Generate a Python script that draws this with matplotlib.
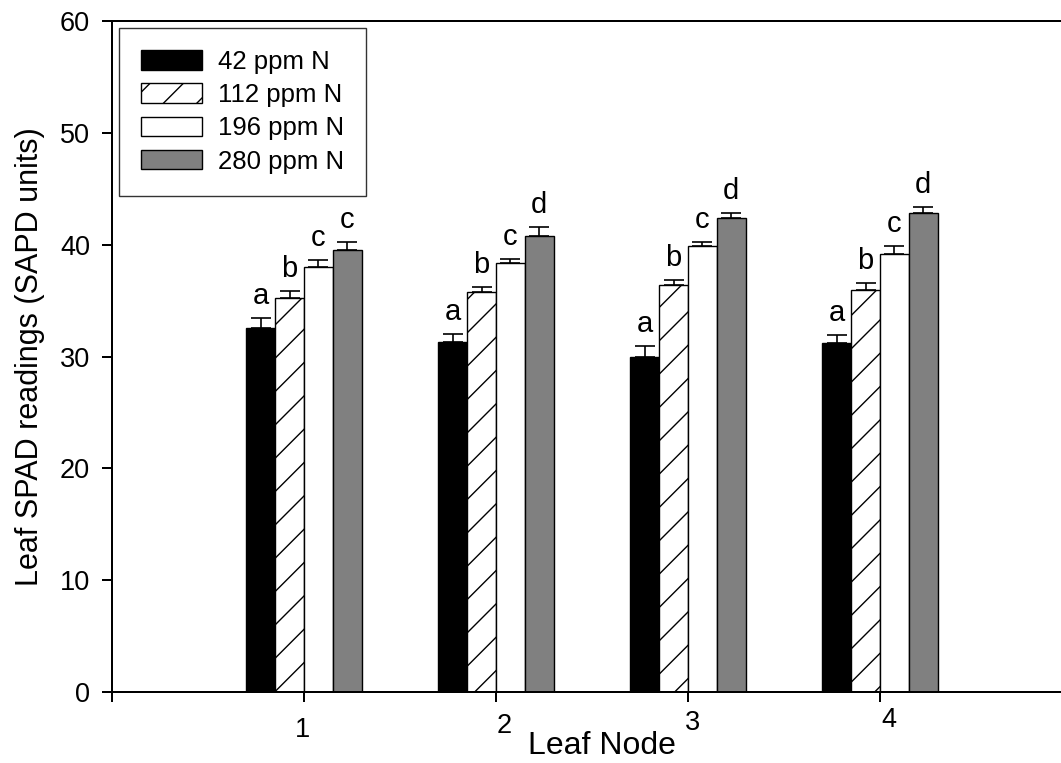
import matplotlib
matplotlib.use("Agg")
import matplotlib.pyplot as plt
import matplotlib.transforms as mtransforms
import numpy as np

plt.rcParams['font.family'] = ['Liberation Sans', 'DejaVu Sans']
plt.rcParams['hatch.linewidth'] = 1.0

# ---- data ----
nodes = [1, 2, 3, 4]
series_labels = ["42 ppm N", "112 ppm N", "196 ppm N", "280 ppm N"]
spad_42 = [32.58, 31.28, 29.99, 31.24]
spad_112 = [35.20, 35.75, 36.37, 35.92]
spad_196 = [37.98, 38.34, 39.88, 39.14]
spad_280 = [39.53, 40.78, 42.41, 42.86]
err_42 = [0.83, 0.71, 0.98, 0.71]
err_112 = [0.68, 0.45, 0.50, 0.65]
err_196 = [0.65, 0.36, 0.33, 0.71]
err_280 = [0.74, 0.83, 0.39, 0.51]
letters_42 = ["a", "a", "a", "a"]
letters_112 = ["b", "b", "b", "b"]
letters_196 = ["c", "c", "c", "c"]
letters_280 = ["c", "d", "d", "d"]
y_ticks = [0, 10, 20, 30, 40, 50, 60]

values = [spad_42, spad_112, spad_196, spad_280]
errors = [err_42, err_112, err_196, err_280]
letters = [letters_42, letters_112, letters_196, letters_280]
faces = ["black", "white", "white", "#808080"]
hatches = [None, "/", None, None]

fig = plt.figure(figsize=(10.61, 7.63), dpi=100)
ax = fig.add_axes([0.10556, 0.09266, 0.90481, 0.88021])

width = 0.15
offsets = [-1.5 * width, -0.5 * width, 0.5 * width, 1.5 * width]
x = np.array(nodes, dtype=float)

for i in range(4):
    xi = x + offsets[i]
    ax.bar(xi, values[i], width=width, color=faces[i], edgecolor="black",
           linewidth=1.0, hatch=hatches[i], label=series_labels[i], zorder=2)
    ax.errorbar(xi, values[i], yerr=[np.zeros(4), errors[i]], fmt="none",
                ecolor="black", elinewidth=1.2, capsize=7.2, capthick=1.2, zorder=3)
    for xx, v, e, t in zip(xi, values[i], errors[i], letters[i]):
        ax.annotate(t, xy=(xx, v + e), xytext=(0, 10), textcoords="offset points",
                    ha="center", va="baseline", fontsize=21)

ax.set_xlim(0, 5)
ax.set_ylim(0, 60)
ax.set_yticks(y_ticks)
ax.set_yticklabels([str(v) for v in y_ticks])
ax.set_xticks([0, 1, 2, 3, 4, 5])
ax.set_xticklabels(["", "1", "2", "3", "4", ""])

for s in ["left", "bottom", "top", "right"]:
    ax.spines[s].set_linewidth(1.44)
ax.tick_params(axis="both", direction="out", length=7.2, width=1.44, labelsize=19.5)
ax.tick_params(axis="y", pad=8.5)
ax.tick_params(axis="x", pad=0)

# staggered x tick labels as in the original
shifts = {1: (-1.5, 27.7), 2: (8, 23.4), 3: (5, 21.0), 4: (9, 17.2)}
for tick, loc in zip(ax.xaxis.get_major_ticks(), [0, 1, 2, 3, 4, 5]):
    if loc in shifts:
        dx, dy = shifts[loc]
        lab = tick.label1
        lab.set_verticalalignment("center")
        lab.set_transform(lab.get_transform() +
                          mtransforms.ScaledTranslation(dx / 100, -dy / 100, fig.dpi_scale_trans))

ax.set_xlabel("Leaf Node", fontsize=23, va="center")
ax.xaxis.set_label_coords((602 - 112) / 960, -(745.5 - 692.3) / 671.6)
ax.set_ylabel("Leaf SPAD readings (SAPD units)", fontsize=22, va="center")
ax.yaxis.set_label_coords((30 - 112) / 960, 0.5)

leg = ax.legend(loc="upper left", bbox_to_anchor=((119.3 - 112) / 960, (692.3 - 27.7) / 671.6),
                borderaxespad=0, fontsize=18.5, frameon=True, fancybox=False,
                edgecolor="#333333", framealpha=1, handlelength=2.37, handleheight=0.78,
                handletextpad=0.62, labelspacing=0.36, borderpad=0.86)
leg.get_frame().set_linewidth(1.0)

fig.savefig("out.png", dpi=100)
